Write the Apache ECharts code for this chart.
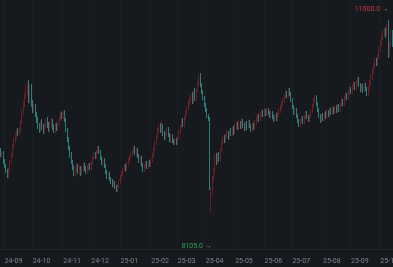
<!DOCTYPE html>
<html><head><meta charset="utf-8">
<script src="https://cdn.jsdelivr.net/npm/echarts@6/dist/echarts.min.js"></script>
<style>html,body{margin:0;padding:0;background:#161a1f;overflow:hidden;}#c{width:393px;height:267px;}</style>
</head><body><div id="c"></div>
<script>
// daily candles, first trading day 2024-08-28 (weekdays)
const startDate = '2024-08-28';
const candleCount = 295;
const tickLabels = ['24-09','24-10','24-11','24-12','25-01','25-02','25-03','25-04','25-05','25-06','25-07','25-08','25-09','25-10'];

const opens = [9050,8975,9005,8885,8810,8735,8660,8750,8870,8975,9095,9200,9260,9335,9290,9350,9470,9605,9740,9860,9950,10010,9800,9980,9740,9650,9710,9590,9500,9410,9365,9440,9395,9335,9410,9500,9410,9365,9440,9485,9395,9335,9410,9365,9440,9530,9590,9545,9605,9500,9350,9200,9080,8975,8870,8780,8690,8750,8810,8720,8780,8705,8750,8825,8780,8720,8780,8825,8780,8855,8930,8990,8945,9020,9080,9020,8930,8855,8900,8810,8720,8645,8690,8615,8570,8525,8555,8495,8450,8510,8585,8645,8705,8750,8810,8765,8840,8900,8945,8990,9035,9080,9005,9050,8960,8885,8930,8825,8750,8810,8855,8795,8855,8825,8900,8975,9065,9155,9245,9335,9395,9335,9410,9305,9230,9290,9365,9275,9200,9260,9185,9155,9200,9155,9230,9320,9395,9470,9425,9530,9605,9680,9740,9800,9845,9770,9905,9815,9935,10040,10130,10025,9920,9830,9725,9650,9560,9530,8225,8450,8630,8750,8930,8870,8960,8900,9050,9155,9230,9185,9260,9305,9245,9335,9290,9365,9320,9395,9440,9380,9455,9395,9470,9425,9365,9440,9395,9470,9410,9365,9425,9380,9455,9515,9560,9515,9575,9620,9575,9635,9590,9650,9605,9560,9605,9545,9500,9560,9515,9575,9635,9680,9740,9785,9845,9905,9860,9935,9890,9800,9695,9605,9650,9560,9485,9425,9485,9530,9470,9545,9605,9545,9500,9560,9635,9710,9785,9845,9740,9650,9560,9500,9560,9515,9590,9545,9620,9575,9650,9605,9665,9620,9680,9635,9695,9650,9725,9785,9740,9815,9875,9830,9905,9965,9920,9995,10040,9980,10055,10115,10025,9950,10010,9950,10025,9965,9890,9965,10055,10145,10220,10310,10385,10340,10445,10550,10640,10730,10805,10850,10790,10910,10490,10625,10760];
const closes = [8975,9005,8870,8810,8735,8660,8750,8870,8975,9095,9200,9260,9335,9290,9350,9470,9605,9740,9860,9950,10010,9800,9950,9740,9650,9710,9590,9500,9410,9350,9440,9395,9335,9410,9500,9410,9365,9440,9485,9395,9335,9410,9365,9440,9530,9590,9545,9605,9500,9350,9200,9080,8975,8870,8780,8690,8750,8810,8720,8780,8705,8750,8825,8780,8720,8780,8825,8780,8855,8930,8990,8945,9020,9080,9020,8930,8855,8900,8810,8720,8645,8690,8615,8570,8525,8555,8495,8450,8510,8585,8645,8705,8750,8810,8765,8840,8900,8945,8990,9035,9080,9005,9050,8960,8885,8930,8825,8750,8810,8855,8795,8855,8825,8900,8975,9065,9155,9245,9335,9395,9335,9410,9305,9230,9290,9365,9275,9200,9260,9185,9155,9200,9155,9230,9320,9395,9470,9425,9530,9605,9680,9740,9800,9845,9770,9905,9815,9935,10040,10130,10025,9920,9830,9725,9650,9560,9515,8480,8450,8630,8750,8930,8870,8960,8900,9050,9155,9230,9185,9260,9305,9245,9335,9290,9365,9320,9395,9440,9380,9455,9395,9470,9425,9365,9440,9395,9470,9410,9365,9425,9380,9455,9515,9560,9515,9575,9620,9575,9635,9590,9650,9605,9560,9605,9545,9500,9560,9515,9575,9635,9680,9740,9785,9845,9905,9860,9935,9890,9800,9695,9605,9650,9560,9485,9425,9485,9530,9470,9545,9605,9545,9500,9560,9635,9710,9785,9845,9740,9650,9560,9500,9560,9515,9590,9545,9620,9575,9650,9605,9665,9620,9680,9635,9695,9650,9725,9785,9740,9815,9875,9830,9905,9965,9920,9995,10040,9980,10055,10115,10025,9950,10010,9950,10025,9965,9890,9965,10055,10145,10220,10310,10385,10340,10445,10550,10640,10730,10805,10850,10790,10895,10460,10625,10775,10640];
const highs = [9080,9035,9035,8915,8840,8765,8780,8900,9005,9140,9245,9305,9365,9380,9395,9500,9650,9785,9905,10010,10055,10100,10025,10040,9800,9755,9740,9620,9545,9455,9485,9515,9440,9455,9530,9545,9470,9485,9530,9515,9440,9455,9455,9485,9560,9635,9620,9635,9650,9530,9380,9245,9110,9020,8900,8825,8795,8855,8840,8825,8810,8795,8870,8855,8810,8825,8855,8855,8885,8960,9020,9020,9050,9110,9110,9050,8960,8930,8930,8840,8750,8720,8720,8645,8615,8600,8585,8525,8540,8615,8675,8735,8780,8840,8840,8870,8930,8975,9020,9065,9110,9110,9080,9080,8990,8960,8960,8855,8840,8885,8885,8885,8900,8930,9005,9095,9185,9275,9380,9440,9455,9485,9440,9335,9320,9395,9395,9305,9290,9290,9215,9230,9230,9260,9350,9425,9515,9530,9560,9635,9710,9785,9845,9890,9920,9950,9980,9965,10085,10175,10205,10055,9950,9860,9755,9680,9590,9545,8495,8660,8795,8990,9005,9005,9020,9080,9185,9275,9275,9305,9350,9335,9365,9380,9410,9410,9440,9485,9470,9500,9485,9530,9515,9455,9485,9485,9515,9500,9440,9470,9455,9500,9560,9605,9590,9620,9665,9650,9680,9665,9695,9680,9635,9650,9635,9575,9590,9605,9620,9680,9725,9785,9830,9890,9950,9935,9980,9980,9920,9830,9725,9680,9680,9590,9515,9515,9560,9560,9575,9635,9635,9575,9590,9665,9740,9830,9875,9875,9770,9680,9590,9590,9605,9620,9635,9665,9650,9695,9680,9710,9695,9725,9725,9740,9740,9755,9830,9815,9860,9920,9905,9950,10010,9995,10040,10085,10070,10100,10145,10145,10055,10040,10040,10070,10055,9995,10010,10100,10190,10265,10355,10430,10430,10490,10595,10685,10775,10850,10895,10880,10940,11000,10670,10850,10850];
const lows = [8945,8930,8840,8780,8705,8630,8630,8720,8840,8945,9065,9155,9215,9260,9275,9320,9440,9575,9695,9815,9875,9755,9740,9695,9605,9605,9545,9455,9365,9305,9320,9350,9290,9305,9365,9380,9320,9335,9395,9350,9305,9305,9335,9335,9410,9485,9515,9515,9470,9320,9170,9050,8930,8840,8750,8660,8645,8720,8690,8675,8660,8675,8720,8735,8690,8690,8735,8750,8750,8825,8900,8915,8915,8990,8990,8900,8825,8810,8780,8690,8615,8615,8585,8540,8495,8480,8465,8420,8420,8480,8540,8615,8660,8720,8735,8735,8810,8870,8915,8960,9005,8975,8960,8930,8855,8840,8795,8720,8720,8780,8765,8765,8795,8795,8870,8945,9035,9125,9215,9305,9305,9305,9260,9200,9200,9260,9245,9170,9155,9155,9125,9125,9125,9125,9200,9290,9365,9395,9395,9500,9575,9650,9710,9770,9740,9740,9785,9785,9905,10010,9995,9890,9800,9695,9620,9530,9485,8450,8105,8375,8570,8705,8825,8840,8870,8870,9020,9125,9155,9155,9230,9200,9215,9260,9260,9275,9290,9365,9350,9350,9365,9365,9380,9335,9335,9350,9365,9380,9320,9335,9350,9350,9425,9485,9470,9485,9545,9545,9545,9560,9560,9575,9530,9530,9515,9470,9470,9485,9485,9545,9605,9650,9710,9755,9815,9830,9830,9860,9770,9665,9575,9575,9530,9455,9395,9395,9455,9440,9440,9515,9515,9470,9470,9530,9605,9680,9755,9710,9620,9530,9455,9470,9485,9485,9515,9515,9545,9545,9575,9575,9590,9590,9605,9605,9620,9620,9695,9710,9710,9785,9800,9800,9875,9890,9890,9965,9950,9950,10025,9995,9920,9920,9905,9920,9935,9860,9860,9935,10025,10115,10190,10280,10310,10310,10415,10520,10610,10700,10760,10730,10760,10430,10445,10595,10595];

// build trading-day categories (weekdays)
const dates = [];
(function(){
  const d = new Date(startDate + 'T00:00:00Z');
  while (dates.length < candleCount) {
    const wd = d.getUTCDay();
    if (wd !== 0 && wd !== 6) dates.push(d.toISOString().slice(0,10));
    d.setUTCDate(d.getUTCDate() + 1);
  }
})();
const isMonthStart = (i) => i > 0 && dates[i].slice(0,7) !== dates[i-1].slice(0,7);
const ohlc = dates.map((_, i) => [opens[i], closes[i], lows[i], highs[i]]);

const chart = echarts.init(document.getElementById('c'), null, {renderer:'canvas'});
chart.setOption({
  backgroundColor: '#161a1f',
  animation: false,
  grid: {left: 0, right: 0, top: 0, bottom: 18, containLabel: false, outerBoundsMode: 'none'},
  xAxis: {
    type: 'category', data: dates, boundaryGap: true,
    axisLine: {show: true, lineStyle: {color: '#23272e', width: 1}},
    axisTick: {show: false, alignWithLabel: true, interval: (i) => isMonthStart(i)},
    axisLabel: {
      interval: (i) => isMonthStart(i), align: 'left', margin: 9, hideOverlap: false,
      color: '#80858d', fontSize: 7, fontFamily: 'Roboto, Arial, sans-serif',
      formatter: (v) => { const lab = v.slice(2,7); return tickLabels.indexOf(lab) >= 0 ? lab : ''; }
    },
    splitLine: {show: true, interval: (i) => isMonthStart(i), lineStyle: {color: '#1b1f25', width: 1}}
  },
  yAxis: {type: 'value', min: 7565, max: 11300, show: false, splitLine: {show: false}},
  series: [{
    type: 'candlestick', data: ohlc, barWidth: 1,
    itemStyle: {color: '#9c2329', color0: '#3cc2ba', borderColor: '#9c2329', borderColor0: '#3cc2ba', borderWidth: 0.6},
    markPoint: {
      symbol: 'circle', symbolSize: 1, itemStyle: {color: 'rgba(0,0,0,0)'},
      data: [
        {type: 'max', valueDim: 'highest', label: {offset: [1, -11], rich: {v: {color: '#c8363c', fontSize: 7}}}},
        {type: 'min', valueDim: 'lowest', label: {offset: [1, 33], rich: {v: {color: '#2fa653', fontSize: 7}}}}
      ],
      label: {
        show: true, position: 'left', distance: 0, fontSize: 7, fontFamily: 'Roboto, Arial, sans-serif',
        formatter: (p) => '{v|' + Number(p.value).toFixed(1) + '} {a|→}',
        rich: {v: {fontSize: 7}, a: {color: '#8a8d92', fontSize: 7}}
      }
    }
  }]
});
</script></body></html>
